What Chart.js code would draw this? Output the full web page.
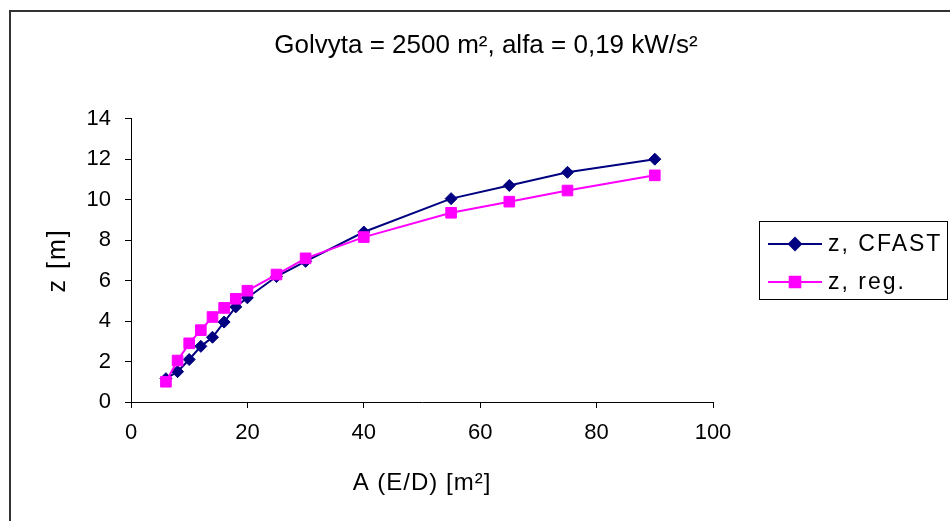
<!DOCTYPE html>
<html>
<head>
<meta charset="utf-8">
<script src="https://cdn.jsdelivr.net/npm/chart.js@4.4.1/dist/chart.umd.min.js"></script>
<style>
  html, body { margin: 0; padding: 0; background: #fff; }
  #wrap { position: relative; width: 950px; height: 521px; }
</style>
</head>
<body>
<div id="wrap"><canvas id="c" width="950" height="521"></canvas></div>
<script>
// ---- data ----
const areas = [6, 8, 10, 12, 14, 16, 18, 20, 25, 30, 40, 55, 65, 75, 90];
const zCfast = [1.15, 1.5, 2.1, 2.75, 3.2, 3.95, 4.7, 5.15, 6.2, 6.95, 8.4, 10.05, 10.7, 11.35, 12.0];
const zReg = [1.0, 2.05, 2.9, 3.55, 4.2, 4.65, 5.1, 5.5, 6.3, 7.1, 8.15, 9.35, 9.9, 10.45, 11.2];
const seriesNames = ['z, CFAST', 'z, reg.'];
const chartTitle = 'Golvyta = 2500 m², alfa = 0,19 kW/s²';
const xTitle = 'A (E/D) [m²]';
const yTitle = 'z [m]';

const FONT = "'Liberation Sans', Arial, sans-serif";

const toPts = (ys) => areas.map((a, i) => ({ x: a, y: ys[i] }));

const frame = {
  id: 'frame',
  beforeDraw(chart) {
    const ctx = chart.ctx;
    ctx.save();
    ctx.fillStyle = '#fff';
    ctx.fillRect(0, 0, chart.width, chart.height);
    ctx.strokeStyle = '#333';
    ctx.lineWidth = 2;
    ctx.strokeRect(10, 11, chart.width + 20, chart.height + 20);
    ctx.restore();
  }
};

// slightly spaced axis titles, as in the reference
const spacedTitles = {
  id: 'spacedTitles',
  afterUpdate(chart) {
    const spacing = { x: '1px', y: '2px' };
    Object.keys(spacing).forEach((id) => {
      const s = chart.scales[id];
      if (s && !s.__spaced) {
        const orig = s.drawTitle.bind(s);
        s.drawTitle = function () {
          chart.ctx.save();
          chart.ctx.letterSpacing = spacing[id];
          orig();
          chart.ctx.restore();
        };
        s.__spaced = true;
      }
    });
  }
};

const customLegend = {
  id: 'customLegend',
  afterDraw(chart) {
    const ctx = chart.ctx;
    const box = { left: 759.5, top: 221.5, right: 947.5, bottom: 299.5 };
    ctx.save();
    ctx.strokeStyle = '#000';
    ctx.lineWidth = 1;
    ctx.strokeRect(box.left, box.top, box.right - box.left, box.bottom - box.top);
    const order = [1, 0]; // dataset indices in legend order (CFAST first)
    const rowsY = [244, 282];
    order.forEach((di, r) => {
      const ds = chart.data.datasets[di];
      const y = rowsY[r];
      ctx.strokeStyle = ds.borderColor;
      ctx.lineWidth = 2;
      ctx.beginPath();
      ctx.moveTo(768, y);
      ctx.lineTo(822, y);
      ctx.stroke();
      Chart.helpers.drawPoint(ctx, {
        pointStyle: ds.pointStyle,
        radius: ds.pointRadius,
        borderWidth: ds.pointBorderWidth
      }, 795, y);
      ctx.fillStyle = ds.pointBackgroundColor;
      ctx.fill();
      ctx.fillStyle = '#000';
      ctx.font = '23px ' + FONT;
      ctx.letterSpacing = '2px';
      ctx.textBaseline = 'middle';
      ctx.textAlign = 'left';
      ctx.fillText(ds.label, 828, y + 1);
      ctx.letterSpacing = '0px';
    });
    ctx.restore();
  }
};

new Chart(document.getElementById('c'), {
  type: 'scatter',
  data: {
    datasets: [
      {
        label: seriesNames[1],
        data: toPts(zReg),
        showLine: true,
        borderColor: '#FF00FF',
        backgroundColor: '#FF00FF',
        pointBackgroundColor: '#FF00FF',
        pointBorderColor: '#FF00FF',
        borderWidth: 2,
        pointStyle: 'rect',
        pointRadius: 7.5,
        pointBorderWidth: 1,
        pointHoverRadius: 7.5
      },
      {
        label: seriesNames[0],
        data: toPts(zCfast),
        showLine: true,
        borderColor: '#000080',
        backgroundColor: '#000080',
        pointBackgroundColor: '#000080',
        pointBorderColor: '#000080',
        borderWidth: 2,
        pointStyle: 'rectRot',
        pointRadius: 6,
        pointBorderWidth: 1,
        pointHoverRadius: 6
      }
    ]
  },
  options: {
    responsive: false,
    animation: false,
    events: [],
    layout: { padding: { left: 22, right: 0, top: 0, bottom: 0 } },
    plugins: {
      legend: { display: false },
      tooltip: { enabled: false },
      title: {
        display: true,
        text: chartTitle,
        color: '#000',
        font: { family: FONT, size: 26, weight: 'normal' },
        padding: { top: 30.5, bottom: 57 }
      }
    },
    scales: {
      x: {
        type: 'linear',
        min: 0,
        max: 100,
        position: 'bottom',
        afterFit(s) { s.height = 119; },
        ticks: { stepSize: 20, color: '#000', font: { family: FONT, size: 22 }, padding: 12, maxRotation: 0 },
        grid: { drawOnChartArea: false, drawTicks: true, tickLength: 6, color: '#000', lineWidth: 1 },
        border: { display: true, color: '#000', width: 1 },
        title: { display: true, text: xTitle, color: '#000', font: { family: FONT, size: 24 }, padding: { top: 0, bottom: 23 } }
      },
      y: {
        type: 'linear',
        min: 0,
        max: 14,
        position: 'left',
        afterFit(s) { s.width = 109; },
        ticks: { stepSize: 2, color: '#000', font: { family: FONT, size: 22 }, padding: 14 },
        grid: { drawOnChartArea: false, drawTicks: true, tickLength: 6, color: '#000', lineWidth: 1 },
        border: { display: true, color: '#000', width: 1 },
        title: { display: true, text: yTitle, color: '#000', font: { family: FONT, size: 25 }, padding: { top: 21, bottom: 0 } }
      },
      yr: {
        type: 'linear',
        position: 'right',
        min: 0,
        max: 1,
        afterFit(s) { s.width = 237; },
        ticks: { display: false },
        grid: { display: false },
        border: { display: false }
      }
    }
  },
  plugins: [frame, spacedTitles, customLegend]
});
</script>
</body>
</html>
